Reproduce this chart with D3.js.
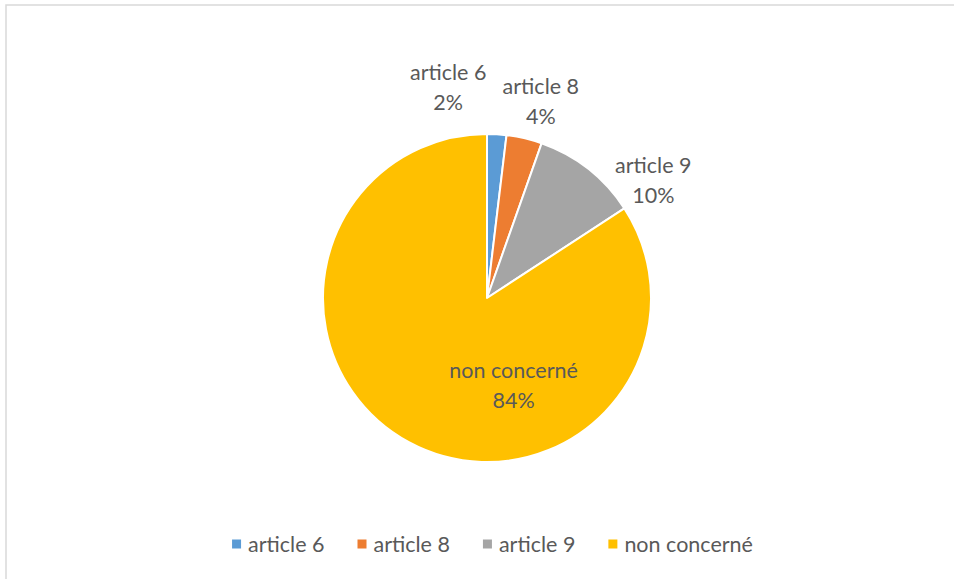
<!DOCTYPE html>
<html>
<head>
<meta charset="utf-8">
<script src="https://cdn.jsdelivr.net/npm/d3@7"></script>
<style>
  body { margin: 0; background: #fff; }
  svg { display: block; font-family: Lato, "Open Sans", sans-serif; }
</style>
</head>
<body>
<svg id="chart" width="954" height="579"></svg>
<script>
// data (shares in %)
const categories = ['article 6', 'article 8', 'article 9', 'non concerné'];
const shares = [1.9, 3.5, 10.4, 84.2];
const colors = ['#5B9BD5', '#ED7D31', '#A5A5A5', '#FFC000'];

// where each data label sits: polar angle (deg, clockwise from top) and distance from centre
const labelLayout = [
    { angle: -10.4, dist: 215 },
    { angle: 15.3, dist: 204 },
    { angle: 54.6, dist: 204 },
    { angle: 163, dist: 91 }
];

const width = 954, height = 579;
const cx = 487, cy = 298, radius = 164;
const fontSize = '21.5px';

const svg = d3.select('#chart');

// chart area border
svg.append('rect')
    .attr('x', 6).attr('y', 5)
    .attr('width', width + 20).attr('height', height + 20)
    .attr('fill', 'none')
    .attr('stroke', '#d9d9d9')
    .attr('stroke-width', 1.5);

const data = categories.map((c, i) => ({ name: c, value: shares[i], color: colors[i] }));

const pie = d3.pie().value(d => d.value).sort(null);
const arc = d3.arc().innerRadius(0).outerRadius(radius);

const g = svg.append('g').attr('transform', `translate(${cx},${cy})`);

g.selectAll('path')
    .data(pie(data))
    .enter().append('path')
    .attr('d', arc)
    .attr('fill', d => d.data.color)
    .attr('stroke', '#fff')
    .attr('stroke-width', 2)
    .attr('stroke-linejoin', 'round');

// data labels: category name + rounded percentage
const labels = g.selectAll('g.label')
    .data(pie(data))
    .enter().append('g')
    .attr('class', 'label')
    .attr('transform', (d, i) => {
        const a = labelLayout[i].angle * Math.PI / 180;
        const r = labelLayout[i].dist;
        return `translate(${Math.sin(a) * r},${-Math.cos(a) * r})`;
    });

labels.append('text')
    .attr('text-anchor', 'middle')
    .attr('dominant-baseline', 'central')
    .attr('y', -15)
    .attr('fill', '#595959')
    .style('font-size', fontSize)
    .text(d => d.data.name);

labels.append('text')
    .attr('text-anchor', 'middle')
    .attr('dominant-baseline', 'central')
    .attr('y', 15)
    .attr('fill', '#595959')
    .style('font-size', fontSize)
    .text(d => Math.round(d.data.value) + '%');

// legend, centred under the pie
const legend = svg.append('g');
const items = legend.selectAll('g')
    .data(data)
    .enter().append('g');

items.append('rect')
    .attr('width', 9).attr('height', 9)
    .attr('y', -4.5)
    .attr('fill', d => d.color);

items.append('text')
    .attr('x', 16)
    .attr('dominant-baseline', 'central')
    .attr('fill', '#595959')
    .style('font-size', fontSize)
    .text(d => d.name);

let xPos = 0;
items.each(function() {
    const w = this.getBBox().width;
    d3.select(this).attr('transform', `translate(${xPos},0)`);
    xPos += w + 33;
});
const total = xPos - 33;
legend.attr('transform', `translate(${492.5 - total / 2},544)`);
</script>
</body>
</html>
